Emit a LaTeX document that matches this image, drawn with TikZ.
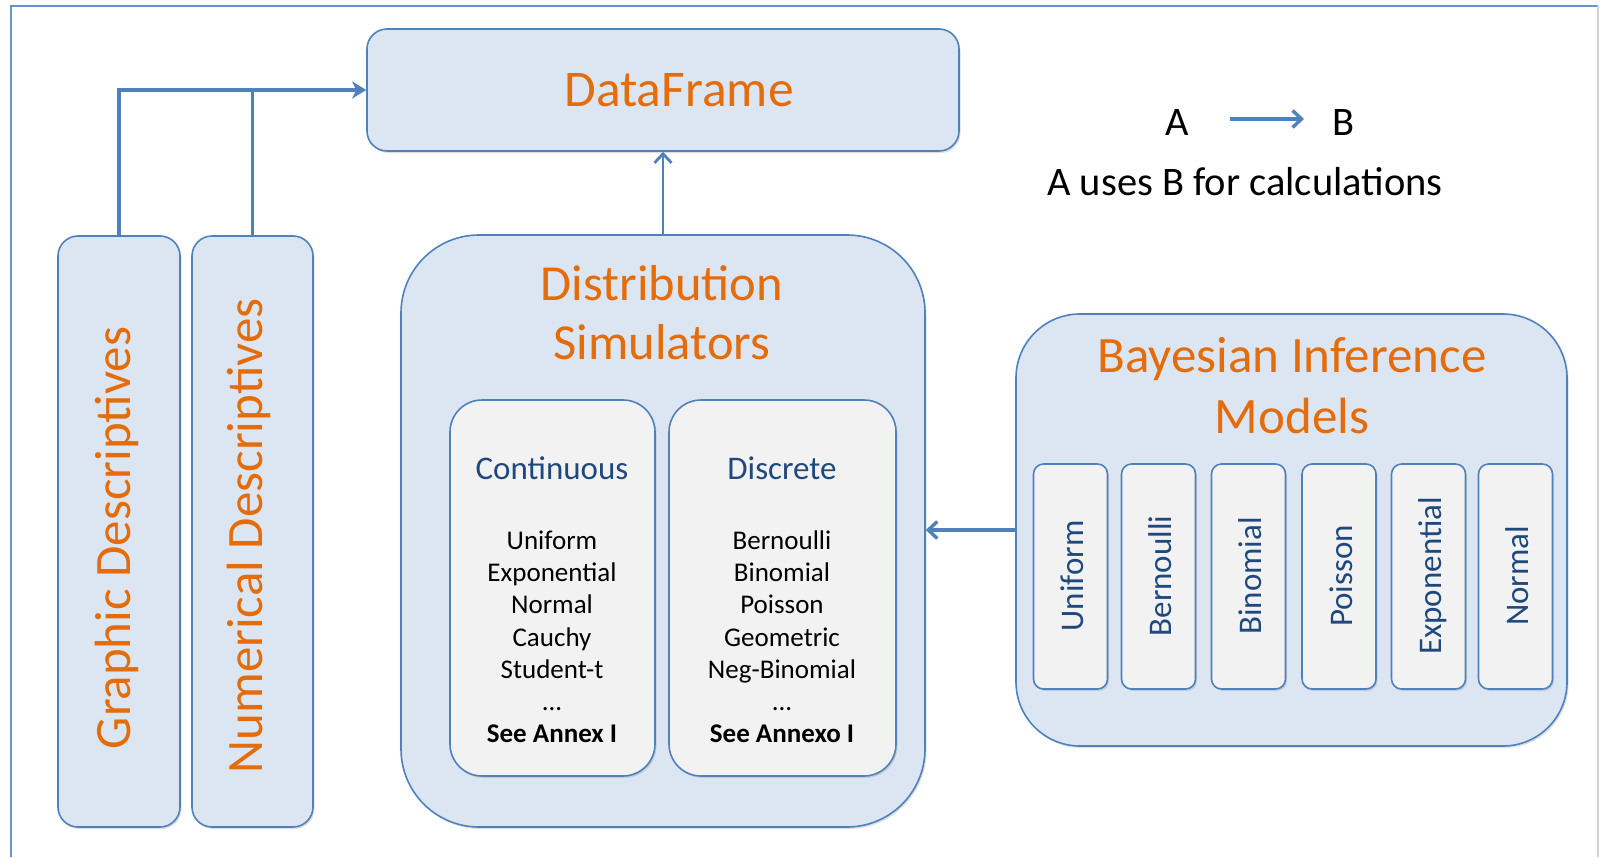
\documentclass[tikz,border=0pt]{standalone}
\usepackage{fontspec}
\setmainfont{Carlito}
\usetikzlibrary{arrows.meta,shadows}

\definecolor{panelfill}{HTML}{DCE6F2}
\definecolor{panelline}{HTML}{4F81BD}
\definecolor{cardfill}{HTML}{F2F2F2}
\definecolor{titleorange}{HTML}{E46C0A}
\definecolor{labelnavy}{HTML}{1F497D}
\definecolor{frameblue}{HTML}{6A92C8}
\definecolor{framegray}{HTML}{D4D4D4}

% three dots kept out of \foreach's range syntax
\newcommand\dotrow{...}

\begin{document}
\begin{tikzpicture}[x=1pt,y=-1pt,
  panel/.style={rectangle, draw=panelline, line width=1.6pt, fill=panelfill,
    inner sep=0pt,
    drop shadow={shadow xshift=1.5pt, shadow yshift=-2pt, opacity=0.25}},
  card/.style={panel, fill=cardfill},
  txt/.style={inner sep=0pt, anchor=base},
  orangetitle/.style={txt, text=titleorange},
  navytitle/.style={txt, text=labelnavy, font=\fontsize{33}{40}\selectfont},
  listitem/.style={txt, text=black, font=\fontsize{27}{32}\selectfont},
  conn/.style={draw=panelline, line width=3.4pt},
  barb/.style={-{Straight Barb[length=9pt,width=17pt]}},
]
% page and outer frame
\fill[white] (0,0) rectangle (1600,857);
\useasboundingbox (0,0) rectangle (1600,857);
\draw[frameblue, line width=1.8pt] (11,857) -- (11,6) -- (1598,6);
\draw[framegray, line width=1.5pt] (1598,6) -- (1598,857);

% DataFrame
\node[panel, rounded corners=20pt, minimum width=592pt, minimum height=122pt] (df) at (663,90) {};
\node[orangetitle, font=\fontsize{51.5}{60}\selectfont] (dftext) at (679,106) {DataFrame};

% descriptive statistics columns
\node[panel, rounded corners=20pt, minimum width=122pt, minimum height=591pt] (gd) at (119,531.5) {};
\node[panel, rounded corners=20pt, minimum width=121pt, minimum height=591pt] (nd) at (252.5,531.5) {};
\node[orangetitle, rotate=90, font=\fontsize{51}{60}\selectfont] (gdtext) at (130,538) {Graphic Descriptives};
\node[orangetitle, rotate=90, font=\fontsize{51}{60}\selectfont] (ndtext) at (262,536) {Numerical Descriptives};

% distribution simulators
\node[panel, rounded corners=78pt, minimum width=524pt, minimum height=592pt] (ds) at (663,531) {};
\node[orangetitle, font=\fontsize{50.5}{60}\selectfont] (dstextA) at (662,300) {Distribution};
\node[orangetitle, font=\fontsize{50.5}{60}\selectfont] (dstextB) at (662,359) {Simulators};

\node[card, rounded corners=32pt, minimum width=205pt, minimum height=376pt] (cont) at (552.5,588) {};
\node[card, rounded corners=32pt, minimum width=227pt, minimum height=376pt] (disc) at (782.5,588) {};
\node[navytitle] (conttitle) at (552,479) {Continuous};
\node[navytitle] (disctitle) at (782,479) {Discrete};
\foreach \t [count=\i from 0] in {Uniform, Exponential, Normal, Cauchy, Student-t, \dotrow, \textbf{See Annex I}}
  \node[listitem] (cl\i) at (552,{549+32.33*\i}) {\t};
\foreach \t [count=\i from 0] in {Bernoulli, Binomial, Poisson, Geometric, Neg-Binomial, \dotrow, \textbf{See Annexo I}}
  \node[listitem] (dl\i) at (782,{549+32.33*\i}) {\t};

% Bayesian inference models
\node[panel, rounded corners=64pt, minimum width=551pt, minimum height=432pt] (bim) at (1291.5,530) {};
\node[orangetitle, font=\fontsize{51}{60}\selectfont] (bimtextA) at (1292,372) {Bayesian Inference};
\node[orangetitle, font=\fontsize{51}{60}\selectfont] (bimtextB) at (1292,433) {Models};
\foreach \cx/\t/\n in {1070.5/Uniform/u, 1158.5/Bernoulli/be, 1248.5/Binomial/bi,
                      1339/Poisson/p, 1428.5/Exponential/e, 1515.5/Normal/n} {
  \node[card, rounded corners=10pt, minimum width=74pt, minimum height=225pt] (bm\n) at (\cx,576.5) {};
  \node[navytitle, rotate=90] (bm\n text) at ({\cx+13},576) {\t};
}

% connectors
\draw[conn, -{Stealth[length=14pt,width=17pt,inset=4pt]}] (gd.north) |- (df.west);
\draw[conn] (nd.north) -- (nd.north |- df.west);
\draw[conn, line width=2.8pt, barb] (ds.north) -- (df.south);
\draw[conn, barb] (bim.west) -- (bim.west -| ds.east);

% legend
\node[txt, font=\fontsize{40.5}{48}\selectfont] (legA) at (1177,135) {A};
\node[txt, font=\fontsize{40.5}{48}\selectfont] (legB) at (1343,135) {B};
\node[txt, font=\fontsize{40.5}{48}\selectfont] (legC) at (1245,195) {A uses B for calculations};
\coordinate (legFrom) at (1230,119);
\coordinate (legTo) at (1304,119);
\draw[conn, barb] (legFrom) -- (legTo);
\end{tikzpicture}
\end{document}
